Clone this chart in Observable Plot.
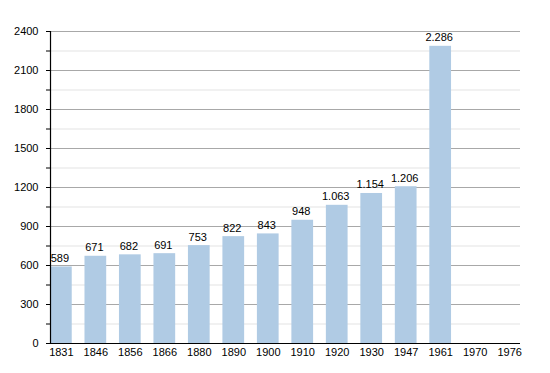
<!DOCTYPE html>
<html>
<head>
<meta charset="utf-8">
<script src="https://cdn.jsdelivr.net/npm/d3@7"></script>
<script src="https://cdn.jsdelivr.net/npm/@observablehq/plot@0.6"></script>
<style>
  html, body { margin: 0; padding: 0; background: #fff; }
  svg { display: block; }
</style>
</head>
<body>
<div id="chart"></div>
<script>
const years = ["1831","1846","1856","1866","1880","1890","1900","1910","1920","1930","1947","1961","1970","1976"];
const population = [589, 671, 682, 691, 753, 822, 843, 948, 1063, 1154, 1206, 2286, null, null];
const majorTicks = [0, 300, 600, 900, 1200, 1500, 1800, 2100, 2400];
const minorTicks = [150, 450, 750, 1050, 1350, 1650, 1950, 2250];
const allTicks = [0, 150, 300, 450, 600, 750, 900, 1050, 1200, 1350, 1500, 1650, 1800, 1950, 2100, 2250, 2400];

const data = years.map((y, i) => ({year: y, value: population[i]}));
const bars = data.filter(d => d.value != null);
const fmt = d3.formatLocale({decimal: ",", thousands: ".", grouping: [3], currency: ["", ""]}).format(",");

const chart = Plot.plot({
  width: 550,
  height: 373,
  marginTop: 31,
  marginBottom: 30,
  marginLeft: 50,
  marginRight: 30,
  style: {fontFamily: "'Liberation Sans', Arial, sans-serif", fontSize: "11px", color: "#000", background: "#fff"},
  x: {domain: years, paddingInner: 0.37, paddingOuter: 0, round: false, label: null},
  y: {domain: [0, 2400], label: null},
  marks: [
    Plot.ruleY(minorTicks, {stroke: "#e3e3e3", strokeWidth: 1, strokeOpacity: 1}),
    Plot.ruleY(majorTicks.filter(d => d > 0), {stroke: "#a8a8a8", strokeWidth: 1, strokeOpacity: 1}),
    Plot.barY(bars, {x: "year", y: "value", fill: "#b0cbe4"}),
    Plot.text(bars, {x: "year", y: "value", text: d => fmt(d.value), lineAnchor: "bottom", dy: -5, dx: -1.5, fill: "#000", fontSize: 11}),
    Plot.axisX({tickSize: 0, tickPadding: 5, fontSize: 11, label: null}),
    Plot.axisY({ticks: allTicks, tickSize: 4, tickPadding: 8, tickFormat: d => d % 300 === 0 ? String(d) : "", fontSize: 11, label: null, stroke: "#000"}),
    Plot.ruleY([0], {stroke: "#000", strokeWidth: 1.2}),
    Plot.ruleX([years[0]], {stroke: "#000", strokeWidth: 1.2, dx: -10.85, y1: 0, y2: 2400})
  ]
});
document.getElementById("chart").appendChild(chart);
</script>
</body>
</html>
